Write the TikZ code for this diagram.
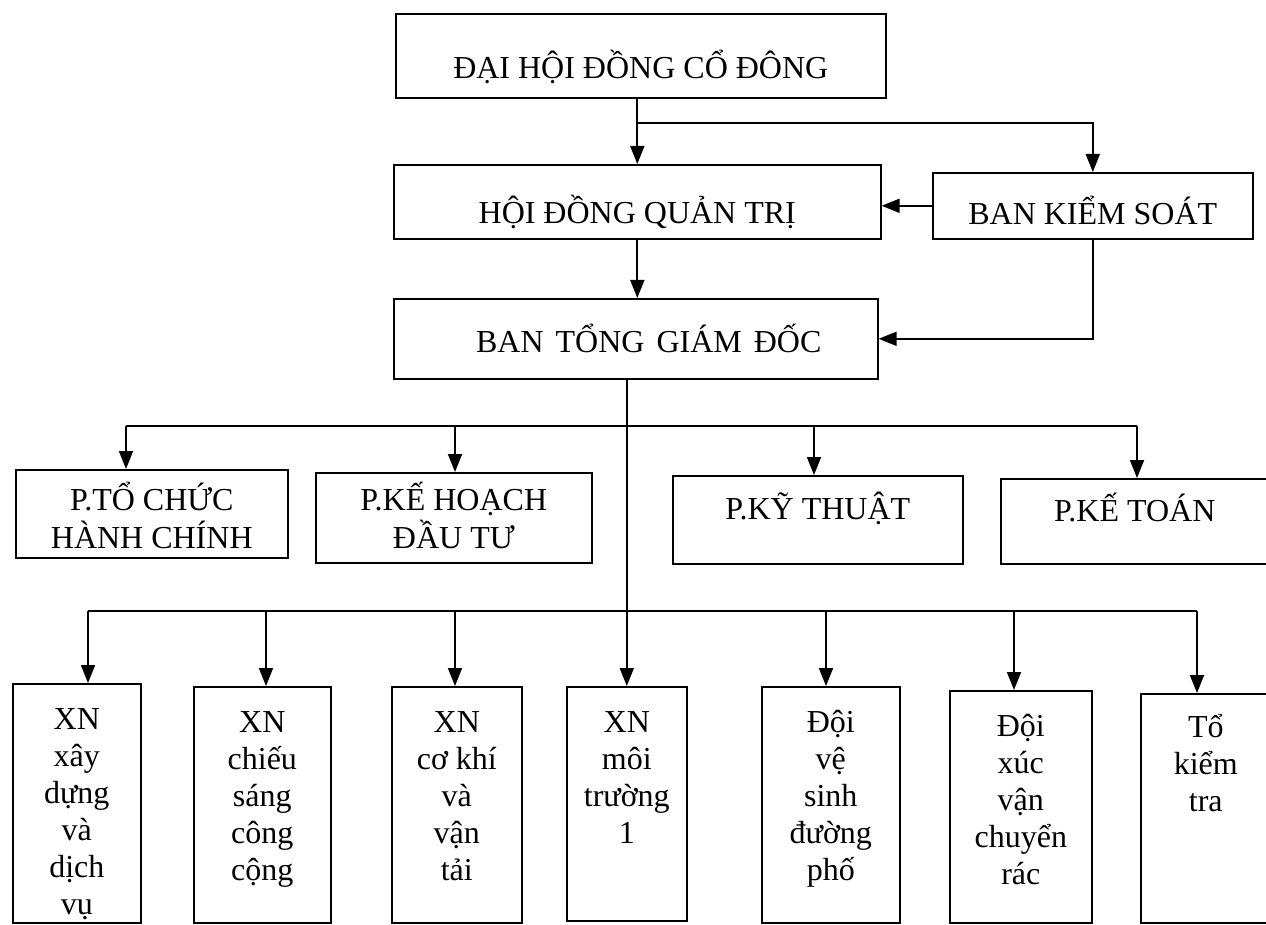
\documentclass[tikz,border=0pt]{standalone}
\usepackage{fontspec}
\setmainfont{Liberation Serif}
\usetikzlibrary{arrows.meta}
\newcommand\tbx[5]{\parbox[c][#2pt][t]{#1pt}{\centering\lineskiplimit=-100pt\fontsize{32pt}{#4pt}\selectfont\rule{0pt}{#3pt}#5\par}}
\tikzset{
  box/.style={draw, line width=1.6pt, inner sep=0pt, anchor=north west},
  arr/.style={line width=1.8pt, -{Triangle[length=18pt,width=14pt]}},
  ln/.style={line width=1.8pt}
}
\begin{document}
\begin{tikzpicture}[x=1pt, y=-1pt]
\fill[white] (0,0) rectangle (1266,925);
\useasboundingbox (0,0) rectangle (1266,925);
% top levels
\node[box] (dh) at (395,13) {\tbx{490}{84}{65}{37}{ĐẠI HỘI ĐỒNG CỔ ĐÔNG}};
\node[box] (hd) at (393,164) {\tbx{487}{74}{59}{37}{HỘI ĐỒNG QUẢN TRỊ}};
\node[box] (bks) at (932,172) {\tbx{320}{66}{52}{37}{BAN KIỂM SOÁT}};
\node[box] (bt) at (393,298) {\tbx{484}{80}{54}{37}{\hspace*{26pt}BAN\hspace{12pt}TỔNG\hspace{12pt}GIÁM\hspace{12pt}ĐỐC}};
% departments
\node[box] (p1) at (15,469) {\tbx{272}{88}{41}{38}{P.TỔ CHỨC\\HÀNH CHÍNH}};
\node[box] (p2) at (315,472) {\tbx{276}{90}{38}{38}{P.KẾ HOẠCH\\ĐẦU TƯ}};
\node[box] (p3) at (672,475) {\tbx{290}{88}{44}{30}{P.KỸ THUẬT}};
\node[box] (p4) at (1000,478) {\tbx{268}{85}{43}{30}{P.KẾ TOÁN}};
% units
\node[box] (x1) at (12,683) {\tbx{128}{239}{46}{37}{XN\\xây\\dựng\\và\\dịch\\vụ}};
\node[box] (x2) at (193,686) {\tbx{137}{236}{46}{37}{XN\\chiếu\\sáng\\công\\cộng}};
\node[box] (x3) at (391,686) {\tbx{130}{236}{46}{37}{XN\\cơ khí\\và\\vận\\tải}};
\node[box] (x4) at (566,686) {\tbx{120}{234}{46}{37}{XN\\môi\\trường\\1}};
\node[box] (x5) at (761,686) {\tbx{138}{236}{46}{37}{Đội\\vệ\\sinh\\đường\\phố}};
\node[box] (x6) at (949,690) {\tbx{142}{232}{46}{37}{Đội\\xúc\\vận\\chuyển\\rác}};
\node[box] (x7) at (1140,693) {\tbx{130}{229}{44}{37}{Tổ\\kiểm\\tra}};
% connectors top
\coordinate (br) at (0,123);
\draw[arr] (hd.north |- dh.south) -- (hd.north);
\draw[arr] (hd.north |- br) -| (bks.north);
\draw[arr] (bks.west) -- (bks.west -| hd.east);
\draw[arr] (hd.south) -- (hd.south |- bt.north);
\draw[arr] (bks.south) |- (bt.east);
\draw[arr] (bt.south -| x4.north) -- (x4.north);
% bus 1
\coordinate (u1) at (126,426);
\coordinate (u2) at (455,426);
\coordinate (u3) at (814,426);
\coordinate (u4) at (1137,426);
\draw[ln] (u1) -- (u4);
\draw[arr] (u1) -- (u1 |- p1.north);
\draw[arr] (u2) -- (u2 |- p2.north);
\draw[arr] (u3) -- (u3 |- p3.north);
\draw[arr] (u4) -- (u4 |- p4.north);
% bus 2
\coordinate (v1) at (88,611);
\coordinate (v2) at (266,611);
\coordinate (v3) at (455,611);
\coordinate (v5) at (826,611);
\coordinate (v6) at (1014,611);
\coordinate (v7) at (1197,611);
\draw[ln] (v1) -- (v7);
\draw[arr] (v1) -- (v1 |- x1.north);
\draw[arr] (v2) -- (v2 |- x2.north);
\draw[arr] (v3) -- (v3 |- x3.north);
\draw[arr] (v5) -- (v5 |- x5.north);
\draw[arr] (v6) -- (v6 |- x6.north);
\draw[arr] (v7) -- (v7 |- x7.north);
\end{tikzpicture}
\end{document}
